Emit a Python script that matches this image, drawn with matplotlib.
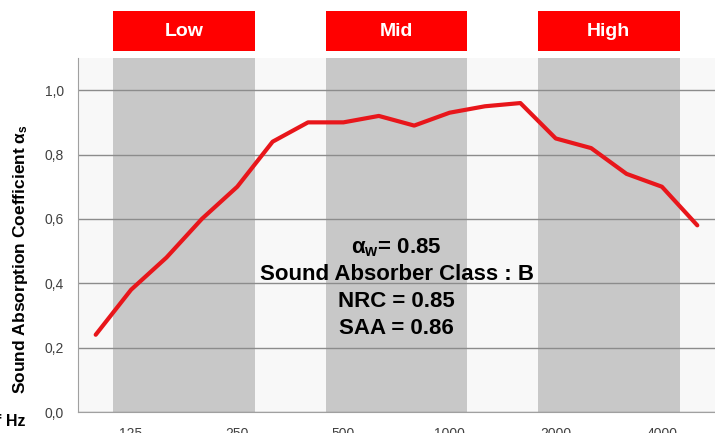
import matplotlib.pyplot as plt
import matplotlib.transforms as mtransforms
from matplotlib.patches import Rectangle

plt.rcParams['font.family'] = ['Liberation Sans', 'DejaVu Sans']

# 1/3 octave band centre frequencies
freqs = [100, 125, 160, 200, 250, 315, 400, 500, 630, 800, 1000,
         1250, 1600, 2000, 2500, 3150, 4000, 5000]
alpha_s = [0.24, 0.38, 0.48, 0.60, 0.70, 0.84, 0.90, 0.90, 0.92, 0.89,
           0.93, 0.95, 0.96, 0.85, 0.82, 0.74, 0.70, 0.58]
shown_ticks = [125, 250, 500, 1000, 2000, 4000]
bands = [("Low", 125, 250), ("Mid", 500, 1000), ("High", 2000, 4000)]
summary = ["Sound Absorber Class : B", "NRC = 0.85", "SAA = 0.86"]

fig = plt.figure(figsize=(7.15, 4.33), dpi=100)
ax = fig.add_axes([78 / 715, 21 / 433, 1 - 78 / 715, 354 / 433])
ax.set_facecolor('#f8f8f8')

x = list(range(len(freqs)))
ax.set_xlim(-0.5, len(freqs) - 0.5)
ax.set_ylim(0, 1.1)

# grey band shading + red headers above the plot
trans = mtransforms.blended_transform_factory(ax.transData, fig.transFigure)
for name, f0, f1 in bands:
    i0 = freqs.index(f0) - 0.5
    i1 = freqs.index(f1) + 0.5
    ax.axvspan(i0, i1, color='#c8c8c8', zorder=0, lw=0)
    ax.add_patch(Rectangle((i0, (433 - 51) / 433), i1 - i0, 40 / 433,
                           transform=trans, facecolor='#ff0000',
                           edgecolor='none', clip_on=False, zorder=5))
    ax.text((i0 + i1) / 2, (433 - 31) / 433, name, transform=trans,
            color='white', fontsize=14, fontweight='bold',
            ha='center', va='center', zorder=6)

ax.set_yticks([0, 0.2, 0.4, 0.6, 0.8, 1.0])
ax.set_yticklabels(['0,0', '0,2', '0,4', '0,6', '0,8', '1,0'],
                   fontsize=10, color='#404040')
ax.yaxis.grid(True, color='#8c8c8c', lw=1)
ax.set_axisbelow(True)
ax.tick_params(axis='y', length=0, pad=10)

ax.set_xticks([freqs.index(f) for f in shown_ticks])
ax.set_xticklabels([str(f) for f in shown_ticks], fontsize=10, color='#404040')
ax.tick_params(axis='x', length=0, pad=11)

for s in ['top', 'right']:
    ax.spines[s].set_visible(False)
for s in ['left', 'bottom']:
    ax.spines[s].set_color('#a0a0a0')

ax.plot(x, alpha_s, color='#e8161b', lw=3, solid_capstyle='round', zorder=3)

ax.set_ylabel(r'Sound Absorption Coefficient $\mathregular{\alpha_s}$',
              fontsize=12.5, fontweight='bold')
ax.yaxis.set_label_coords(-0.076, 0.432)
fig.text(25 / 715, (433 - 422) / 433, 'f Hz', fontsize=11.5,
         fontweight='bold', ha='right', va='center')

cx = 8.5
ax.text(cx, 0.51, r'$\mathregular{\alpha_w}$= 0.85', fontsize=16,
        fontweight='bold', ha='center', va='center')
for k, line in enumerate(summary):
    ax.text(cx, 0.427 - k * 0.083, line, fontsize=16, fontweight='bold',
            ha='center', va='center')

fig.savefig('out.png', dpi=100)
